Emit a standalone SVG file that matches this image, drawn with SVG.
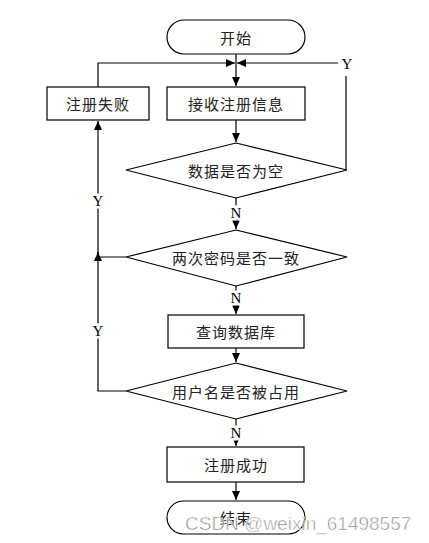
<svg xmlns="http://www.w3.org/2000/svg" width="429" height="543" viewBox="0 0 429 543">
<style>
.shape{fill:#fff;stroke:#000;stroke-width:1.2}
.t{font-family:"Noto Sans CJK SC","Noto Sans CJK JP",sans-serif;font-size:15px;letter-spacing:1px;fill:#222;text-anchor:middle;dominant-baseline:central}
.line{fill:none;stroke:#000;stroke-width:1.2}
.lbl{font-family:"Liberation Serif","DejaVu Serif",serif;font-size:15px;fill:#000;text-anchor:middle;dominant-baseline:central;stroke:#fff;stroke-width:5;paint-order:stroke}
.wm{font-family:"Liberation Sans",Arial,sans-serif;font-size:19px;fill:#777;stroke:#fff;stroke-width:0.6;opacity:0.9}
</style>
<defs>
<marker id="ah" markerUnits="userSpaceOnUse" markerWidth="9" markerHeight="8" refX="9" refY="4" orient="auto">
<path d="M0,0 L9,4 L0,8 z" fill="#000"/>
</marker>
</defs>
<rect width="429" height="543" fill="#fff"/>
<g id="connectors">
<path class="line" d="M236,54 V86" marker-end="url(#ah)"/>
<path class="line" d="M98,87 V63 H235" marker-end="url(#ah)"/>
<path class="line" d="M346,170 V76"/>
<path class="line" d="M338,63 H237" marker-end="url(#ah)"/>
<path class="line" d="M236,120 V142" marker-end="url(#ah)"/>
<path class="line" d="M236,198 V229" marker-end="url(#ah)"/>
<path class="line" d="M126,257 H98 V121" marker-end="url(#ah)"/>
<path class="line" d="M236,286 V314" marker-end="url(#ah)"/>
<path class="line" d="M236,348 V362" marker-end="url(#ah)"/>
<path class="line" d="M126,391 H98 V252" marker-end="url(#ah)"/>
<path class="line" d="M236,419 V446" marker-end="url(#ah)"/>
<path class="line" d="M236,482 V500" marker-end="url(#ah)"/>
<text class="lbl" x="347" y="64">Y</text>
<text class="lbl" x="98" y="201">Y</text>
<text class="lbl" x="98" y="331">Y</text>
<text class="lbl" x="236" y="213">N</text>
<text class="lbl" x="236" y="298">N</text>
<text class="lbl" x="236" y="433">N</text>
</g>
<g id="start"><rect class="shape" x="167" y="20" width="138" height="34" rx="17"/><text class="t" x="236" y="37">开始</text></g>
<g id="receive"><rect class="shape" x="167" y="87" width="138" height="33"/><text class="t" x="236" y="103.5">接收注册信息</text></g>
<g id="fail"><rect class="shape" x="47" y="87" width="102" height="33"/><text class="t" x="98" y="103.5">注册失败</text></g>
<g id="empty"><polygon class="shape" points="236,143 347,170 236,198 126,170"/><text class="t" x="236" y="170">数据是否为空</text></g>
<g id="pwd"><polygon class="shape" points="236,230 347,257 236,286 126,257"/><text class="t" x="236" y="257">两次密码是否一致</text></g>
<g id="query"><rect class="shape" x="168" y="315" width="136" height="33"/><text class="t" x="236" y="331.5">查询数据库</text></g>
<g id="used"><polygon class="shape" points="236,363 347,391 236,419 126,391"/><text class="t" x="236" y="391">用户名是否被占用</text></g>
<g id="success"><rect class="shape" x="167" y="447" width="137" height="35"/><text class="t" x="236" y="464.5">注册成功</text></g>
<g id="end"><rect class="shape" x="167" y="501" width="138" height="33" rx="16.5"/><text class="t" x="236" y="517.5">结束</text></g>
<text class="wm" x="185" y="530">CSDN @weixin_61498557</text>
</svg>
